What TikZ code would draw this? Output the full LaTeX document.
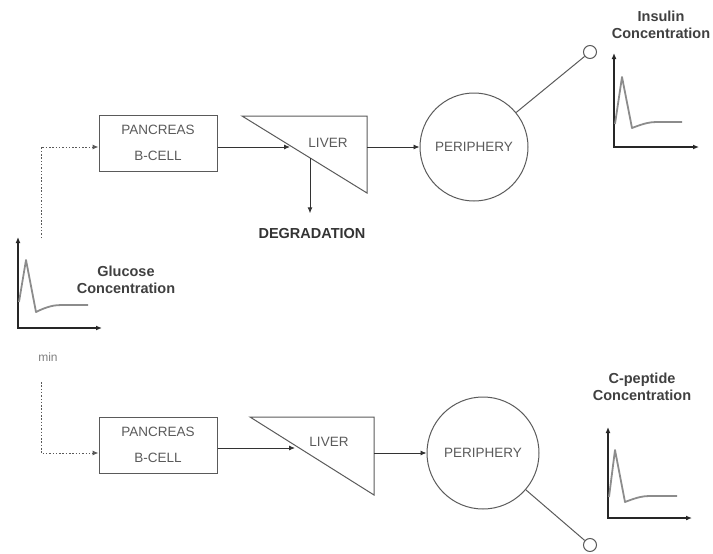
\documentclass[tikz,border=0pt]{standalone}
\usepackage{fontspec}
\setmainfont{Liberation Sans}
\usepackage{tikz}
\usetikzlibrary{arrows.meta}
\usepackage{xcolor}
\definecolor{boxgray}{HTML}{5A5A5A}
\definecolor{tracegray}{HTML}{8C8C8C}

\begin{document}
\begin{tikzpicture}[x=1pt, y=-1pt,
  flow/.style={draw=black!80, line width=0.9pt, -{Latex[length=6pt,width=5pt]}},
  organtext/.style={text=boxgray, font=\fontsize{13.5}{15}\selectfont},
  organ/.style={organtext, draw=boxgray, line width=1pt},
  gaxis/.style={draw=black!85, line width=1.8pt, {Latex[length=6pt,width=5pt]}-{Latex[length=6pt,width=5pt]}},
  trace/.style={draw=tracegray, line width=1.8pt, line join=round},
  conc/.style={font=\bfseries\fontsize{14.5}{17}\selectfont, text=black!75, align=center},
  dots/.style={draw=black!65, line width=1pt, dash pattern=on 1.5pt off 1.8pt, -{Latex[length=6pt,width=5pt]}}]
\useasboundingbox (0,0) rectangle (713,554);

\node[organ, minimum width=118pt, minimum height=56pt, align=center] (pancA) at (158,143) {PANCREAS\\[11pt]B-CELL};
\draw[organ] (242,116) -- (367,116) -- (367,193) -- cycle;
\node[organtext] (livA) at (328,143) {LIVER};
\coordinate (livAin) at (290,147);
\coordinate (livAout) at (367,147);
\coordinate (livAdeg) at (310,158);
\node[organ, circle, minimum size=108pt, inner sep=0pt] (periA) at (474,147) {PERIPHERY};
\node[draw=boxgray, line width=1pt, circle, minimum size=13pt, inner sep=0pt] (outA) at (590,52) {};
\node[font=\bfseries\fontsize{14.5}{17}\selectfont, text=black!80] (deg) at (312,234) {DEGRADATION};

\draw[flow] (pancA.east |- livAin) -- (livAin);
\draw[flow] (livAout) -- (periA);
\draw[flow, shorten >=12pt] (livAdeg) -- (livAdeg |- deg.north);
\draw[draw=boxgray, line width=1pt] (periA) -- (outA);

\node[organ, minimum width=118pt, minimum height=56pt, align=center] (pancB) at (158,445) {PANCREAS\\[11pt]B-CELL};
\draw[organ] (250,417) -- (374,417) -- (374,495) -- cycle;
\node[organtext] (livB) at (329,442) {LIVER};
\coordinate (livBin) at (295,448);
\coordinate (livBout) at (374,453);
\node[organ, circle, minimum size=112pt, inner sep=0pt] (periB) at (483,453) {PERIPHERY};
\node[draw=boxgray, line width=1pt, circle, minimum size=13pt, inner sep=0pt] (outB) at (590,545) {};

\draw[flow] (pancB.east |- livBin) -- (livBin);
\draw[flow] (livBout) -- (periB);
\draw[draw=boxgray, line width=1pt] (periB) -- (outB);

\coordinate (glucA) at (41,238);
\coordinate (glucB) at (41,382);
\draw[dots] (glucA) |- (pancA.west |- livAin);
\draw[dots] (glucB) |- ([yshift=-8pt]pancB.west);

\draw[gaxis] (18,237) |- (102,328);
\draw[trace] (19,302) -- (26,260) -- (36,312) .. controls (48,306) and (55,305) .. (62,305) -- (88,305);
\node[conc] (glucose) at (126,280) {Glucose\\Concentration};
\node[text=gray, font=\fontsize{12}{14}\selectfont] (minlbl) at (48,357) {min};

\draw[gaxis] (614,53) |- (699,147);
\draw[trace] (615,124) -- (622,77) -- (632,128) .. controls (645,123) and (650,122) .. (657,122) -- (682,122);
\node[conc] (insulin) at (661,25) {Insulin\\Concentration};

\draw[gaxis] (608,427) |- (692,518);
\draw[trace] (609,497) -- (615,450) -- (625,502) .. controls (638,497) and (643,496) .. (650,496) -- (677,496);
\node[conc] (cpep) at (642,387) {C-peptide\\Concentration};
\end{tikzpicture}
\end{document}
